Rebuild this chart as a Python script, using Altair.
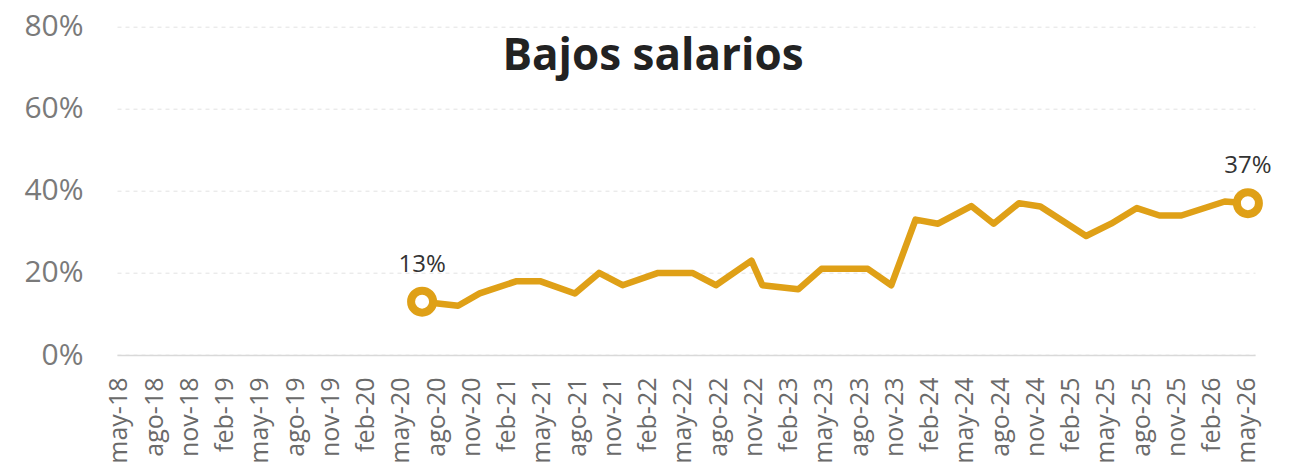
import altair as alt
import pandas as pd
import calendar

# Survey dates and share of "Bajos salarios" (%)
DATES = ["2020-06-25", "2020-09-27", "2020-11-22", "2021-02-25", "2021-04-26",
         "2021-07-26", "2021-09-27", "2021-11-27", "2022-02-26", "2022-05-26",
         "2022-07-26", "2022-10-27", "2022-11-24", "2023-02-24", "2023-04-25",
         "2023-08-24", "2023-10-24", "2023-12-26", "2024-02-22", "2024-05-18",
         "2024-07-15", "2024-09-19", "2024-11-14", "2025-03-11", "2025-05-15",
         "2025-07-21", "2025-09-18", "2025-11-14", "2026-03-05", "2026-05-04"]
VALUES = [13, 12, 15, 18, 18, 15, 20, 17, 20, 20,
          17, 23, 17, 16, 21, 21, 17, 33, 32, 36.3,
          32, 37, 36.2, 29, 32, 35.8, 34, 34, 37.4, 37]

# Axis ticks: quarterly from may-18 to may-26
TICK_LABELS = ["may-18", "ago-18", "nov-18", "feb-19", "may-19", "ago-19", "nov-19",
               "feb-20", "may-20", "ago-20", "nov-20", "feb-21", "may-21", "ago-21",
               "nov-21", "feb-22", "may-22", "ago-22", "nov-22", "feb-23", "may-23",
               "ago-23", "nov-23", "feb-24", "may-24", "ago-24", "nov-24", "feb-25",
               "may-25", "ago-25", "nov-25", "feb-26", "may-26"]
Y_TICKS = [0, 20, 40, 60, 80]
TITLE = "Bajos salarios"

GOLD = "#DFA017"
FONT = "Open Sans"


def month_index(s):
    """Months elapsed since 1 May 2018 (fractional, by day of month)."""
    y, m, d = (int(p) for p in s.split("-"))
    return (y - 2018) * 12 + (m - 5) + (d - 1) / calendar.monthrange(y, m)[1]


df = pd.DataFrame({"date": DATES, "value": VALUES})
df["t"] = [month_index(s) for s in DATES]
df["label"] = [f"{round(v)}%" for v in VALUES]
df["end"] = [i in (0, len(VALUES) - 1) for i in range(len(VALUES))]

labels_arr = "[" + ",".join(f"'{s}'" for s in TICK_LABELS) + "]"

x_enc = alt.X(
    "t:Q",
    scale=alt.Scale(domain=[-0.17, 96.7], nice=False, zero=False),
    axis=alt.Axis(
        title=None,
        values=[3 * i for i in range(len(TICK_LABELS))],
        labelExpr=labels_arr + "[round(datum.value / 3)]",
        labelAngle=-90,
        labelFontSize=25,
        labelColor="#6a6a6a",
        labelFont=FONT,
        labelPadding=22,
        labelOverlap=False,
        labelSeparation=0,
        labelFlush=False,
        labelBound=False,
        ticks=False,
        tickSize=0,
        grid=False,
        domain=True,
        domainColor="#d9d9d9",
        domainWidth=1.5,
    ),
)
y_enc = alt.Y(
    "value:Q",
    scale=alt.Scale(domain=[0, 80], nice=False),
    axis=alt.Axis(
        title=None,
        values=Y_TICKS,
        labelExpr="datum.value + '%'",
        labelFontSize=30,
        labelColor="#7a7a7a",
        labelFont=FONT,
        labelPadding=34,
        labelOverlap=False,
        ticks=False,
        tickSize=0,
        domain=False,
        grid=True,
        gridColor="#e2e2e2",
        gridDash=[4, 4],
        gridWidth=1,
    ),
)

base = alt.Chart(df)

line = base.mark_line(color=GOLD, strokeWidth=6.5, strokeJoin="round", strokeCap="round").encode(
    x=x_enc, y=y_enc
)

ends = base.transform_filter("datum.end").mark_point(
    shape="circle", filled=True, fill="white", stroke=GOLD, strokeWidth=8,
    size=484, opacity=1
).encode(x=x_enc, y=y_enc)

labels = base.transform_filter("datum.end").mark_text(
    font=FONT, fontSize=24, color="#333333", dy=-30, baseline="alphabetic", align="center"
).encode(x=x_enc, y=y_enc, text="label:N")

title = alt.Chart(pd.DataFrame({"t": [TITLE]})).mark_text(
    font=FONT, fontSize=44, fontWeight="bold", color="#222222",
    baseline="alphabetic", align="center"
).encode(x=alt.value(536), y=alt.value(43.3), text="t:N")

chart = alt.layer(line, ends, labels, title).properties(
    width=1138,
    height=328.3,
    autosize=alt.AutoSizeParams(type="none"),
    padding={"left": 109, "top": 18.7, "right": 36, "bottom": 110},
    background="white",
).configure_axis(
    labelOverlap=False
).configure_view(
    strokeWidth=0, stroke="transparent"
)

chart.save("out.html", embed_options={"renderer": "svg", "actions": False})
